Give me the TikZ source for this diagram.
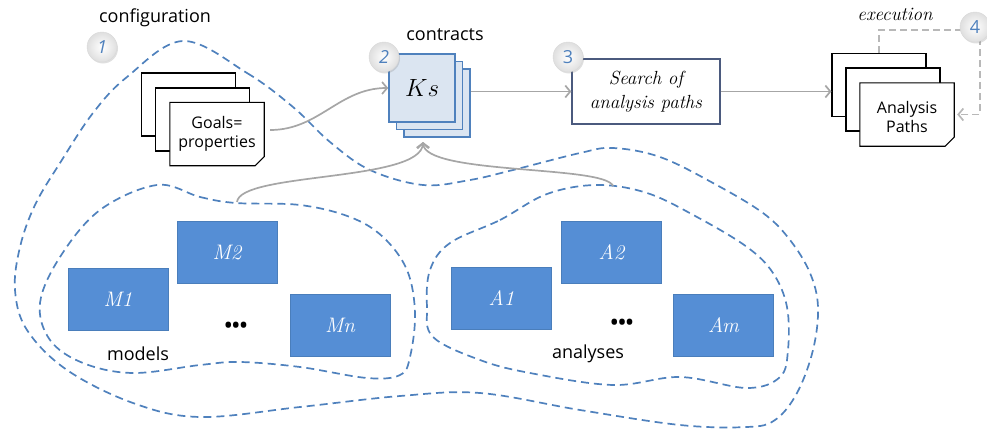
\documentclass[tikz,border=0pt]{standalone}
\usepackage{fontspec}
\setmainfont{Open Sans}
\newfontfamily\lmr{Latin Modern Roman}
\usetikzlibrary{arrows.meta,shadows}
\definecolor{dashblue}{HTML}{4F81BD}
\definecolor{boxblue}{HTML}{558ED5}
\definecolor{boxedge}{HTML}{4A7EBB}
\definecolor{ksfill}{HTML}{DBE5F1}
\definecolor{arrgray}{HTML}{A6A6A6}
\definecolor{slate}{HTML}{4B5A7E}
\begin{document}
\begin{tikzpicture}[x=1pt,y=-1pt,
  region/.style={draw=dashblue, dash pattern=on 8pt off 5pt, line width=1.7pt},
  blk/.style={fill=boxblue, draw=boxedge, line width=0.9pt, minimum width=100pt, minimum height=62pt, inner sep=0pt, text=white, font=\lmr\itshape\fontsize{21}{21}\selectfont},
  page/.style={draw=black, fill=white, line width=1.1pt, minimum width=94pt, minimum height=63pt, inner sep=0pt},
  ftext/.style={inner sep=0pt, minimum width=94pt, minimum height=63pt, align=center, font=\fontsize{16}{19}\selectfont},
  kspage/.style={draw=dashblue, fill=ksfill, line width=1.6pt, minimum width=66pt, minimum height=68pt, inner sep=0pt},
  garrow/.style={draw=arrgray, line width=1.7pt, -{Straight Barb[length=5pt,width=12pt]}},
  badge/.style={circle, minimum size=30pt, inner sep=0pt, inner color=white, outer color=gray!25, draw=gray!30, line width=0.4pt, text=dashblue, font=\fontsize{18}{18}\selectfont, drop shadow={opacity=0.25, shadow xshift=1pt, shadow yshift=-1.5pt}},
  lbl/.style={inner sep=0pt, font=\fontsize{18}{18}\selectfont},
  dots/.style={inner sep=0pt, font=\bfseries\fontsize{20}{20}\selectfont}
]
\useasboundingbox (0,0) rectangle (987,431);

% dashed regions
\draw[region] plot[smooth cycle, tension=0.6] coordinates {
  (183,41) (247,73) (293,107) (330,142) (370,170) (423,185) (470,180) (513,170)
  (580,153) (613,148) (660,157) (713,183) (763,213) (790,240) (810,273) (818,307)
  (813,350) (797,393) (775,420) (747,427) (680,425) (580,410) (480,393) (400,396)
  (300,407) (200,417) (133,403) (67,370) (27,330) (15,290) (20,247) (35,205)
  (60,163) (93,113) (127,77)};
\draw[region] plot[smooth cycle, tension=0.6] coordinates {
  (157,185) (200,197) (236,203) (300,205) (350,217) (383,237) (407,270) (415,313)
  (410,357) (400,375) (367,378) (300,367) (240,362) (200,365) (133,373) (83,363)
  (50,340) (40,303) (60,257) (100,210)};
\draw[region] plot[smooth cycle, tension=0.6] coordinates {
  (450,243) (500,220) (547,194) (597,185) (647,193) (697,217) (747,247) (773,273)
  (787,307) (788,350) (780,377) (747,388) (680,377) (613,385) (530,373) (480,360)
  (433,337) (427,307) (430,270)};

% labels
\node[lbl] (lconf) at (155,18) {configuration};
\node[lbl] (lcon) at (445,35) {contracts};
\node[lbl] (lmod) at (138,354) {models};
\node[lbl] (lana) at (588,354) {analyses};
\node[inner sep=0pt, font=\lmr\itshape\fontsize{19}{19}\selectfont] (lexe) at (895,14) {execution};

% goals stack
\node[page] (g1) at (188.5,104.5) {};
\node[page] (g2) at (202.5,119.5) {};
\node[ftext] (g3) at (217,134) {};
\draw[draw=black, fill=white, line width=1.1pt] (g3.north west) -- (g3.north east) -- ([yshift=9pt]g3.south east) -- ([xshift=-9pt]g3.south east) -- (g3.south west) -- cycle;
\node[ftext] at (g3) {Goals=\\properties};

% Ks stack
\node[kspage] (ks3) at (437,103) {};
\node[kspage] (ks2) at (429.5,95.5) {};
\node[kspage, font=\fontsize{25}{25}\selectfont] (ks1) at (422,88) {$Ks$};

% search
\node[draw=slate, line width=1.3pt, fill=white, minimum width=148pt, minimum height=65pt, align=center, inner sep=0pt, font=\lmr\itshape\fontsize{19}{24}\selectfont] (sp) at (646,91.5) {Search of\\analysis paths};

% analysis paths stack
\node[page] (ap1) at (879,85) {};
\node[page] (ap2) at (893,99.5) {};
\node[ftext] (ap3) at (907,114.5) {};
\draw[draw=black, fill=white, line width=1.1pt] (ap3.north west) -- (ap3.north east) -- ([yshift=9pt]ap3.south east) -- ([xshift=-9pt]ap3.south east) -- (ap3.south west) -- cycle;
\node[ftext] at ([yshift=-2pt]ap3) {Analysis\\Paths};

% blocks
\node[blk] (m1) at (118,299.5) {M1};
\node[blk] (m2) at (227,252.5) {M2};
\node[blk] (mn) at (340,325) {Mn};
\node[blk] (a1) at (501.5,298) {A1};
\node[blk] (a2) at (611.5,252.5) {A2};
\node[blk] (am) at (723.5,325) {Am};
\node[dots] (d1) at (236,327) {•••};
\node[dots] (d2) at (622,324) {•••};

% connectors
\coordinate (mtop) at (237,202);
\coordinate (atop) at (613,186);
\coordinate (kin) at (423,142);
\coordinate (e2) at (980,30);
\draw[garrow] ([xshift=6pt,yshift=4pt]g3.east) to[out=0,in=180] (ks1.west);
\draw[garrow] (sp.west -| ks3.east) -- (sp.west);
\draw[garrow] (sp.east) -- (sp.east -| ap1.west);
\draw[garrow] (mtop) .. controls (240,172) and (421,182) .. (kin);
\draw[garrow] (atop) .. controls (605,165) and (425,175) .. (kin);
\draw[draw=arrgray!80, line width=1.7pt, dash pattern=on 7pt off 4pt, -{Straight Barb[length=5pt,width=12pt]}] (ap1.north) |- (e2) |- ([xshift=3pt]ap3.east);

% badges
\node[badge] (b1) at (102,47) {\itshape 1};
\node[badge] (b2) at (384,57) {\itshape 2};
\node[badge] (b3) at (568,57) {3};
\node[badge] (b4) at (975,27) {4};
\end{tikzpicture}
\end{document}
